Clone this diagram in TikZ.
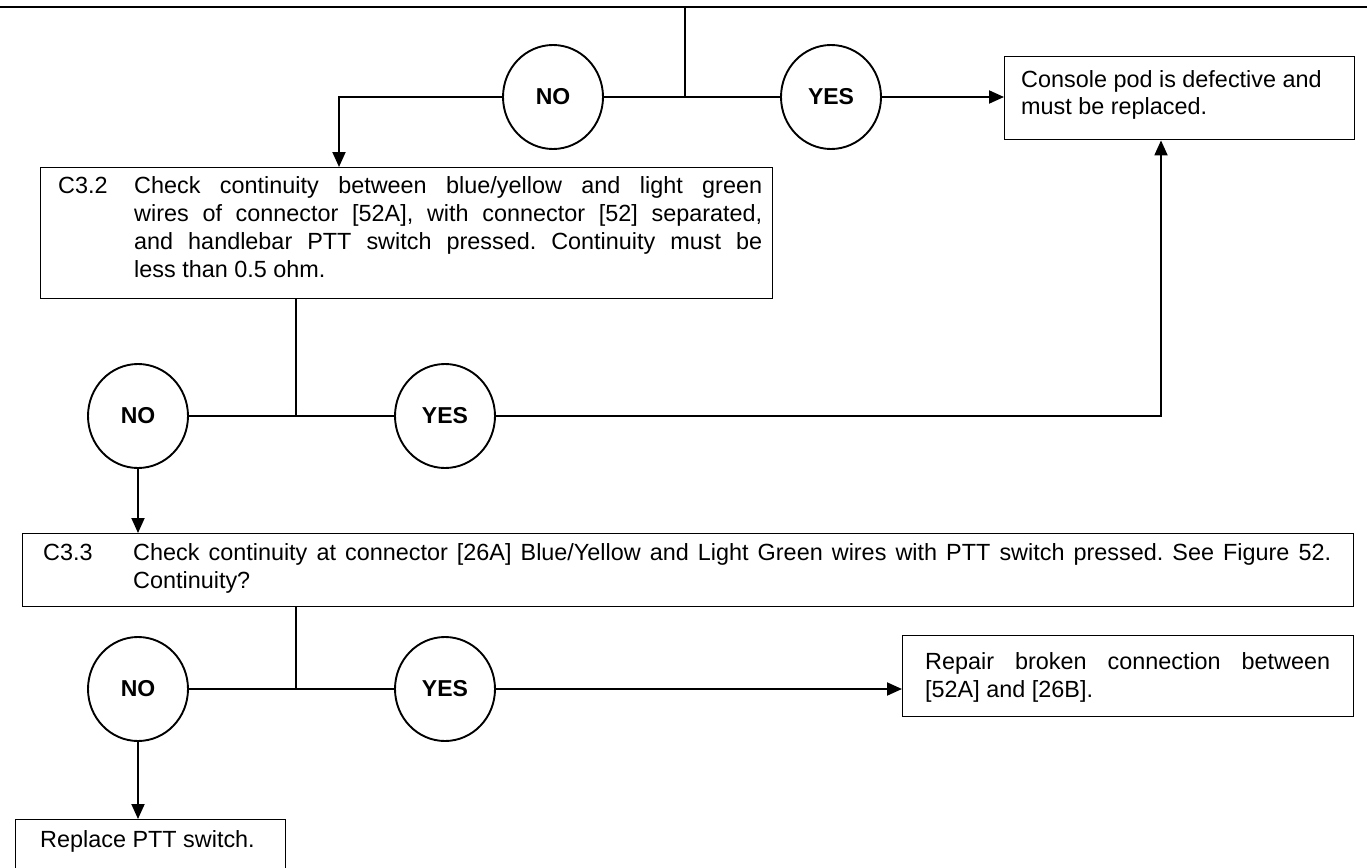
\documentclass[tikz,border=0pt]{standalone}
\usepackage{fontspec}
\setmainfont{Liberation Sans}
\usetikzlibrary{arrows.meta,shapes.geometric}
\frenchspacing
\begin{document}
\begin{tikzpicture}[x=1pt,y=-1pt,
  line/.style={line width=1.9pt},
  flow/.style={line width=1.9pt,-{Triangle[length=15pt,width=13pt]}},
  panel/.style={draw,line width=1.4pt,rectangle,anchor=north west,inner sep=0},
  answer/.style={draw,line width=1.9pt,ellipse,minimum width=100pt,minimum height=104pt,
    inner sep=0,font=\fontsize{23}{27}\selectfont\bfseries},
  txt/.style={anchor=base west,inner sep=0,font=\fontsize{23.4}{28}\selectfont},
]
\useasboundingbox (0,0) rectangle (1367,867);
\clip (0,0) rectangle (1367,867);

% page rule
\coordinate (rl) at (0,7);
\coordinate (rr) at (1367,7);
\draw[line] (rl) -- (rr);

% boxes
\node[panel,minimum width=350pt,minimum height=83pt] (console) at (1004,56) {};
\node[panel,minimum width=732pt,minimum height=131pt] (c32) at (40,167) {};
\node[panel,minimum width=1331pt,minimum height=73pt] (c33) at (22,533) {};
\node[panel,minimum width=451pt,minimum height=81pt] (repair) at (902,635) {};
\node[panel,minimum width=270pt,minimum height=100pt] (replace) at (15,819) {};

% box texts
\node[txt] (consoletext) at (1021,87)
  {\parbox[t]{330pt}{Console pod is defective and\\must be replaced.}};
\node[txt] (c32num) at (58,193) {C3.2};
\node[txt] (c32text) at (134,193) {\parbox[t]{628pt}{%
  \makebox[628pt][s]{Check continuity between blue/yellow and light green}\\
  \makebox[628pt][s]{wires of connector [52A], with connector [52] separated,}\\
  \makebox[628pt][s]{and handlebar PTT switch pressed. Continuity must be}\\
  less than 0.5 ohm.}};
\node[txt] (c33num) at (43,560) {C3.3};
\node[txt] (c33text) at (133,560) {\parbox[t]{1198pt}{%
  \makebox[1198pt][s]{Check continuity at connector [26A] Blue/Yellow and Light Green wires with PTT switch pressed. See Figure 52.}\\
  Continuity?}};
\node[txt] (repairtext) at (925,669) {\parbox[t]{405pt}{%
  \makebox[405pt][s]{Repair broken connection between}\\{}[52A] and [26B].}};
\node[txt] (replacetext) at (40,847) {Replace PTT switch.};

% decision circles
\node[answer] (no1) at (553,97) {NO};
\node[answer] (yes1) at (831,97) {YES};
\node[answer] (no2) at (138,416) {NO};
\node[answer] (yes2) at (445,416) {YES};
\node[answer] (no3) at (138,689) {NO};
\node[answer] (yes3) at (445,689) {YES};

% junction points
\coordinate (t1) at (685,7);
\coordinate (j1) at (685,97);
\coordinate (k1) at (339,97);
\coordinate (j2) at (296,416);
\coordinate (k2) at (1161,416);
\coordinate (j3) at (296,689);

% level 1
\draw[line] (t1) -- (j1);
\draw[line] (no1) -- (yes1);
\draw[flow] (no1.west) -- (k1) -- (k1 |- c32.north);
\draw[flow] (yes1.east) -- (yes1.east -| console.west);

% level 2
\draw[line] (c32.south -| j2) -- (j2);
\draw[line] (no2) -- (yes2);
\draw[flow] (yes2.east) -- (k2) -- (k2 |- console.south);
\draw[flow] (no2.south) -- (no2.south |- c33.north);

% level 3
\draw[line] (c33.south -| j3) -- (j3);
\draw[line] (no3) -- (yes3);
\draw[flow] (yes3.east) -- (yes3.east -| repair.west);
\draw[flow] (no3.south) -- (no3.south |- replace.north);
\end{tikzpicture}
\end{document}
